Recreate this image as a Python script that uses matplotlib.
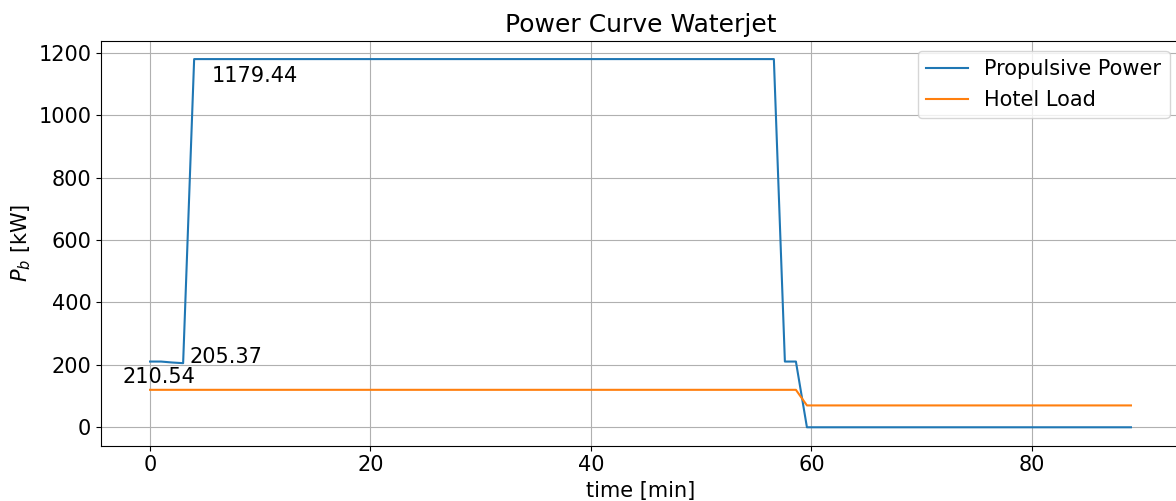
import numpy as np
import matplotlib
matplotlib.use("Agg")
import matplotlib.pyplot as plt

# data (vertices of the curves)
time_prop = [0, 1, 2, 3, 4, 56.6, 57.6, 58.6, 59.6, 89.0]   # [min]
p_prop    = [210.54, 210.54, 207.5, 205.37, 1179.44, 1179.44, 210.54, 210.54, 0, 0]   # [kW]

time_hotel = [0, 58.6, 59.6, 89.0]   # [min]
p_hotel    = [120, 120, 70, 70]      # [kW]

# labelled points: (index into propulsive arrays, text offset in data units)
labels = [(0, -2.5, -70), (3, 0.55, 0), (4, 1.6, -72)]

plt.rcParams['font.size'] = 15

fig = plt.figure(figsize=(11.76, 5.01), dpi=100)
ax = fig.add_axes([0.0859, 0.1104, 0.9175, 0.8084])

ax.plot(time_prop, p_prop, label="Propulsive Power")
ax.plot(time_hotel, p_hotel, label="Hotel Load")

for i, dx, dy in labels:
    ax.text(time_prop[i] + dx, p_prop[i] + dy, "%.2f" % p_prop[i])

ax.set_title("Power Curve Waterjet")
ax.set_xlabel("time [min]")
ax.set_ylabel("$P_b$ [kW]")
ax.grid(True)
ax.legend(loc="upper right")

fig.savefig("out.png", dpi=100)
